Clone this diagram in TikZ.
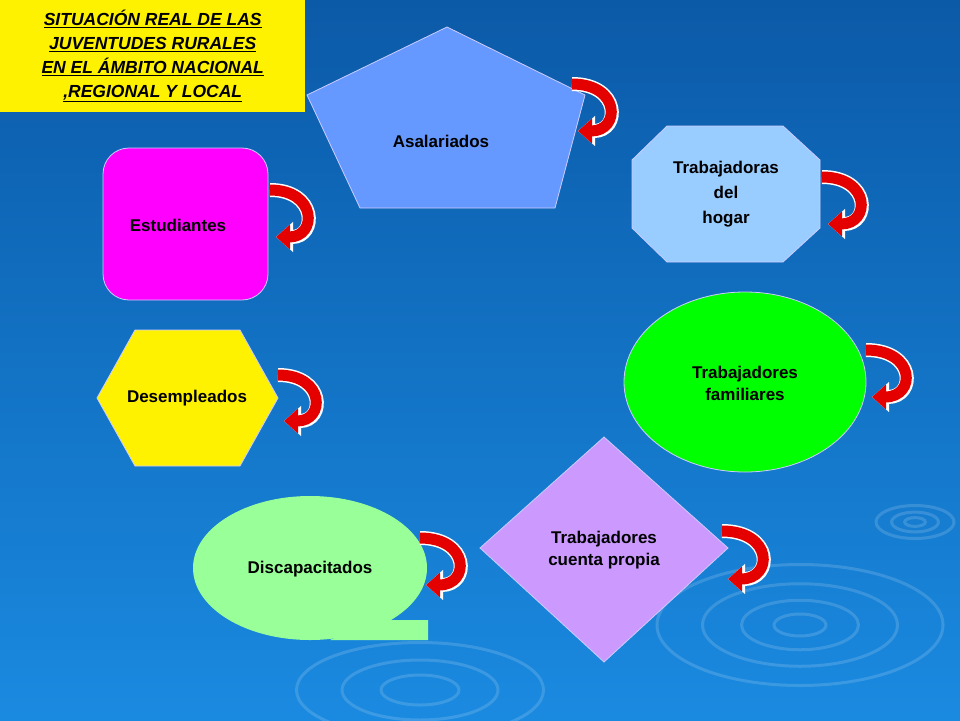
\documentclass[tikz,border=0pt]{standalone}
\usepackage{fontspec}
\setmainfont{Liberation Sans}
\usetikzlibrary{arrows.meta,shapes.geometric}
\definecolor{bgtop}{HTML}{0B5AA8}
\definecolor{bgbot}{HTML}{1A8AE0}
\definecolor{penta}{HTML}{6699FF}
\definecolor{octa}{HTML}{99CCFF}
\definecolor{mag}{HTML}{FF00FF}
\definecolor{grn}{HTML}{00FF00}
\definecolor{lil}{HTML}{CC99FF}
\definecolor{lgrn}{HTML}{99FF99}
\tikzset{
 lbl/.style={font=\fontsize{17}{22}\selectfont\bfseries, align=center, text=black},
 shp/.style={draw=white!80!blue, line width=0.8pt},
 cv/.style={line width=11pt, draw=red!90!black, -{Triangle[width=24pt,length=14pt]},
   preaction={draw=white, line width=14pt, -{Triangle[width=29pt,length=17pt]}}},
 rip/.style={draw=white, opacity=0.15, line width=3pt}
}
\newcommand{\curv}[4]{% x y h w
 \coordinate (s#1#2) at (#1,#2);
 \coordinate (e#1#2) at (#1+6,#2+#3);
 \draw[cv] (s#1#2) .. controls (#1+#4*1.35,#2) and (#1+#4*1.35,#2+#3) .. (e#1#2);}
\begin{document}
\begin{tikzpicture}[x=1pt,y=-1pt]
\useasboundingbox (0,0) rectangle (960,720);
\shade[top color=bgtop,bottom color=bgbot] (0,0) rectangle (960,720);
% ripples
\foreach \r in {20,45,75,110}{\draw[rip] (800,625) ellipse ({\r*1.3} and {\r*0.55});}
\foreach \r in {8,18,30}{\draw[rip] (915,522) ellipse ({\r*1.3} and {\r*0.55});}
\foreach \r in {30,60,95}{\draw[rip] (420,690) ellipse ({\r*1.3} and {\r*0.5});}
% title
\node[fill=yellow, minimum width=305, minimum height=112, anchor=north west, inner sep=0,
 font=\fontsize{17.5}{24}\selectfont\bfseries\itshape, align=center] (title) at (0,0)
 {\underline{SITUACIÓN REAL DE LAS}\\\underline{JUVENTUDES RURALES}\\\underline{EN EL ÁMBITO NACIONAL}\\\underline{,REGIONAL Y LOCAL}};
% pentagon
\filldraw[shp, fill=penta] (447,27) -- (585,95) -- (555,208) -- (360,208) -- (307,95) -- cycle;
\node[lbl] (asal) at (441,141) {Asalariados};
% octagon
\filldraw[shp, fill=octa] (667,126) -- (783,126) -- (820,160) -- (820,228) -- (783,262) -- (667,262) -- (632,228) -- (632,160) -- cycle;
\node[lbl, font=\fontsize{17}{25}\selectfont\bfseries] (hogar) at (726,194) {Trabajadoras\\del\\hogar};
% estudiantes
\filldraw[shp, fill=mag, rounded corners=26] (103,148) rectangle (268,300);
\node[lbl] (est) at (178,225) {Estudiantes};
% hexagon
\filldraw[shp, fill=yellow] (97,398) -- (135,330) -- (240,330) -- (278,398) -- (240,466) -- (135,466) -- cycle;
\node[lbl] (des) at (187,398) {Desempleados};
% green ellipse
\filldraw[shp, fill=grn] (745,382) ellipse (121 and 90);
\node[lbl] (fam) at (745,383) {Trabajadores\\familiares};
% diamond
\filldraw[shp, fill=lil] (604,437) -- (728,548) -- (604,662) -- (480,548) -- cycle;
\node[lbl] (cta) at (604,550) {Trabajadores\\cuenta propia};
% discapacitados callout
\fill[lgrn] (310,568) ellipse (117 and 72);
\fill[lgrn] (375,620) -- (428,620) -- (428,640) -- (330,640) -- cycle;
\node[lbl] (disc) at (310,569) {Discapacitados};
% curved arrows
\curv{572}{84}{47}{36}
\curv{822}{177}{47}{36}
\curv{270}{190}{47}{35}
\curv{278}{375}{46}{35}
\curv{866}{350}{47}{37}
\curv{722}{531}{48}{38}
\curv{420}{538}{47}{37}
\end{tikzpicture}
\end{document}
